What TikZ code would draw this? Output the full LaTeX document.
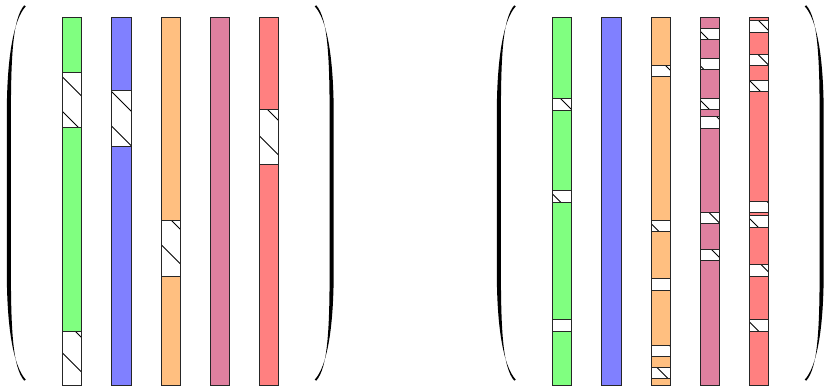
\documentclass[tikz,border=0pt]{standalone}
\usepackage{tikz}
\colorlet{cgreen}{green!50}
\colorlet{cblue}{blue!50}
\colorlet{corange}{orange!50}
\colorlet{cpink}{purple!50}
\colorlet{cred}{red!50}
\tikzset{
  barline/.style={draw=black!85, line width=1pt},
  hatchline/.style={draw=black, line width=0.8pt},
  parenfill/.style={fill=black}
}
\newcommand\colbar[2]{%
  \filldraw[barline, fill=#2] (#1,17.9) rectangle (#1+19.2,385.9);}
\newcommand\hgap[4]{% x, y1, y2, phase
  \begin{scope}
    \fill[white] (#1,#2) rectangle (#1+19.2,#3);
    \clip (#1,#2) rectangle (#1+19.2,#3);
    \pgfmathtruncatemacro\kmin{floor((#2-#1-21-#4)/34.5)}
    \pgfmathtruncatemacro\kmax{ceil((#3-#1-#4)/34.5)}
    \foreach \k in {\kmin,...,\kmax}{\draw[hatchline] (#1-1,{#1-1+#4+(\k)*34.5}) -- ++(22,22);}
  \end{scope}
  \draw[barline] (#1,#2) rectangle (#1+19.2,#3);}
\newcommand\lparen{%
  \fill[parenfill] (25.8,6.3) .. controls (14,19) and (6.8,55) .. (6.8,115) -- (6.8,271)
    .. controls (6.8,331) and (14,367) .. (25.8,379.7) -- (24.2,380.6)
    .. controls (13,368) and (10.9,331) .. (10.9,271) -- (10.9,115)
    .. controls (10.9,55) and (13,18) .. (24.2,5.4) -- cycle;}
\begin{document}
\begin{tikzpicture}[x=1pt,y=-1pt]
\useasboundingbox (0,0) rectangle (824,387);
% ---------- left matrix ----------
\lparen
\begin{scope}[xshift=340.5pt, xscale=-1]\lparen\end{scope}
\colbar{62.7}{cgreen}
\colbar{111.9}{cblue}
\colbar{161.1}{corange}
\colbar{210.3}{cpink}
\colbar{259.5}{cred}
\hgap{62.7}{72.7}{128}{14.5}
\hgap{62.7}{331}{385.9}{14.5}
\hgap{111.9}{91}{146.7}{14.5}
\hgap{161.1}{220.3}{276}{14.5}
\hgap{259.5}{109.3}{165}{14.5}
% ---------- right matrix ----------
\begin{scope}[xshift=490pt]\lparen\end{scope}
\begin{scope}[xshift=830.5pt, xscale=-1]\lparen\end{scope}
\colbar{552.7}{cgreen}
\colbar{601.9}{cblue}
\colbar{651.1}{corange}
\colbar{700.3}{cpink}
\colbar{749.5}{cred}
\hgap{552.7}{98.7}{110.3}{21}
\hgap{552.7}{190.7}{202.3}{21}
\hgap{552.7}{319.3}{331}{21}
\hgap{651.1}{65.7}{76.7}{21}
\hgap{651.1}{220.3}{231.3}{21}
\hgap{651.1}{278.7}{290}{21}
\hgap{651.1}{345.7}{356.7}{21}
\hgap{651.1}{367.7}{378.7}{21}
\hgap{700.3}{28.7}{40}{21}
\hgap{700.3}{58.7}{69.3}{21}
\hgap{700.3}{99}{110}{21}
\hgap{700.3}{116.7}{128.3}{21}
\hgap{700.3}{212.7}{224}{21}
\hgap{700.3}{249.7}{261}{21}
\hgap{749.5}{21}{32.3}{21}
\hgap{749.5}{54.3}{65.7}{21}
\hgap{749.5}{80.3}{91.7}{21}
\hgap{749.5}{201.7}{212.7}{21}
\hgap{749.5}{216}{227.7}{21}
\hgap{749.5}{264.7}{276}{21}
\hgap{749.5}{319.3}{331}{21}
\end{tikzpicture}
\end{document}
